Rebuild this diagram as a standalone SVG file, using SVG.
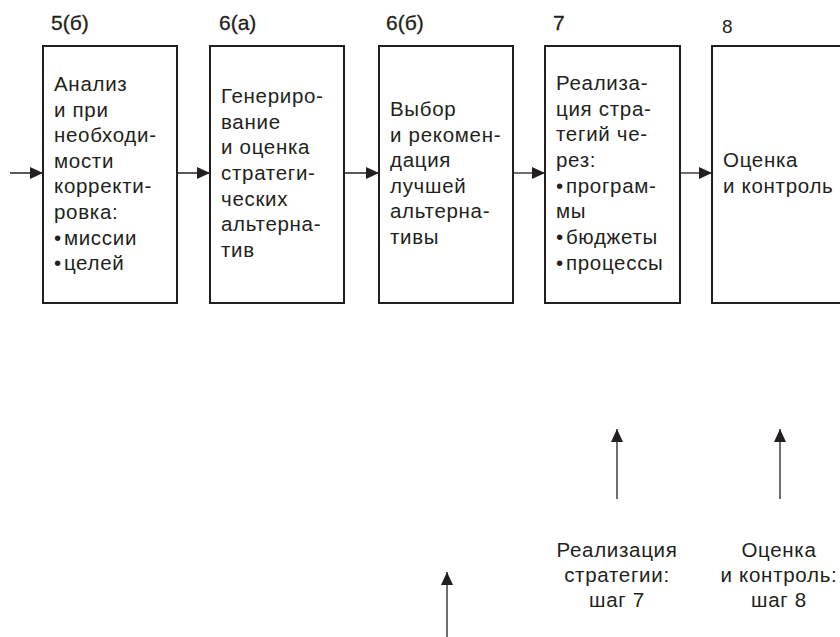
<svg xmlns="http://www.w3.org/2000/svg" width="840" height="637" viewBox="0 0 840 637">
<style>
.box{fill:#fff;stroke:#231f20;stroke-width:2}
.t{font-family:"Liberation Sans",Arial,sans-serif;font-size:20.5px;letter-spacing:0.7px;fill:#231f20}
.n{font-family:"Liberation Sans",Arial,sans-serif;font-size:21px;fill:#231f20;stroke:#231f20;stroke-width:0.3}
.c{stroke:#231f20;stroke-width:1.3;fill:none}
</style>
<defs>
<marker id="ah" markerUnits="userSpaceOnUse" markerWidth="14" markerHeight="14" viewBox="0 0 14 14" refX="13" refY="7" orient="auto">
<path d="M0,1 L13,7 L0,13 Z" fill="#231f20"/>
</marker>
</defs>
<rect width="840" height="637" fill="#fff"/>
<g id="connectors">
<line class="c" x1="10" y1="173" x2="43" y2="173" marker-end="url(#ah)"/>
<line class="c" x1="177" y1="173" x2="210" y2="173" marker-end="url(#ah)"/>
<line class="c" x1="344" y1="173" x2="379" y2="173" marker-end="url(#ah)"/>
<line class="c" x1="513" y1="173" x2="545" y2="173" marker-end="url(#ah)"/>
<line class="c" x1="680" y1="173" x2="712" y2="173" marker-end="url(#ah)"/>
<line class="c" x1="617" y1="499" x2="617" y2="429" marker-end="url(#ah)"/>
<line class="c" x1="780" y1="499" x2="780" y2="429" marker-end="url(#ah)"/>
<line class="c" x1="447" y1="637" x2="447" y2="572" marker-end="url(#ah)"/>
</g>
<g id="n1">
<text class="n" x="51" y="30">5(б)</text>
<rect class="box" x="43" y="46" width="134" height="257"/>
<text class="t" x="54" y="91">Анализ</text>
<text class="t" x="54" y="117">и при</text>
<text class="t" x="54" y="142">необходи-</text>
<text class="t" x="54" y="168">мости</text>
<text class="t" x="54" y="193">корректи-</text>
<text class="t" x="54" y="219">ровка:</text>
<text class="t" x="54" y="245">•<tspan dx="2">миссии</tspan></text>
<text class="t" x="54" y="270">•<tspan dx="2">целей</tspan></text>
</g>
<g id="n2">
<text class="n" x="219" y="30">6(а)</text>
<rect class="box" x="210" y="46" width="134" height="257"/>
<text class="t" x="221" y="103">Генериро-</text>
<text class="t" x="221" y="129">вание</text>
<text class="t" x="221" y="154">и оценка</text>
<text class="t" x="221" y="180">стратеги-</text>
<text class="t" x="221" y="206">ческих</text>
<text class="t" x="221" y="231">альтерна-</text>
<text class="t" x="221" y="257">тив</text>
</g>
<g id="n3">
<text class="n" x="386" y="30">6(б)</text>
<rect class="box" x="379" y="46" width="134" height="257"/>
<text class="t" x="390" y="116">Выбор</text>
<text class="t" x="390" y="142">и рекомен-</text>
<text class="t" x="390" y="167">дация</text>
<text class="t" x="390" y="193">лучшей</text>
<text class="t" x="390" y="218">альтерна-</text>
<text class="t" x="390" y="244">тивы</text>
</g>
<g id="n4">
<text class="n" x="553" y="30">7</text>
<rect class="box" x="545" y="46" width="135" height="257"/>
<text class="t" x="556" y="90">Реализа-</text>
<text class="t" x="556" y="116">ция стра-</text>
<text class="t" x="556" y="141">тегий че-</text>
<text class="t" x="556" y="167">рез:</text>
<text class="t" x="556" y="193">•<tspan dx="2">програм-</tspan></text>
<text class="t" x="556" y="218">мы</text>
<text class="t" x="556" y="244">•<tspan dx="2">бюджеты</tspan></text>
<text class="t" x="556" y="270">•<tspan dx="2">процессы</tspan></text>
</g>
<g id="n5">
<text class="t" x="722" y="33" style="font-size:19px;letter-spacing:0">8</text>
<rect class="box" x="712" y="46" width="140" height="257"/>
<text class="t" x="723" y="167">Оценка</text>
<text class="t" x="723" y="193">и контроль</text>
</g>
<g id="l1">
<text class="t" x="617" y="557" text-anchor="middle">Реализация</text>
<text class="t" x="617" y="582" text-anchor="middle">стратегии:</text>
<text class="t" x="617" y="607" text-anchor="middle">шаг 7</text>
</g>
<g id="l2">
<text class="t" x="779" y="557" text-anchor="middle">Оценка</text>
<text class="t" x="779" y="582" text-anchor="middle">и контроль:</text>
<text class="t" x="779" y="607" text-anchor="middle">шаг 8</text>
</g>
</svg>
